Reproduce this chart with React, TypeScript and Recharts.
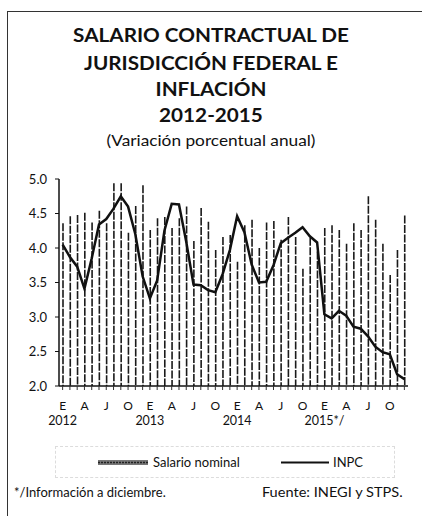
import React from 'react';
import { ComposedChart, Bar, Line, XAxis, YAxis, Legend } from 'recharts';

const monthLetters = ['E', 'F', 'M', 'A', 'M', 'J', 'J', 'A', 'S', 'O', 'N', 'D'];
const shownMonths = [0, 3, 6, 9];
const yearLabels = ['2012', '2013', '2014', '2015*/'];
const yTicks = [2.0, 2.5, 3.0, 3.5, 4.0, 4.5, 5.0];

const salarioNominal = [
  4.36, 4.46, 4.48, 4.51, 4.37, 4.54, 4.36, 4.94, 4.94, 4.22, 4.61, 4.91,
  4.26, 4.43, 4.45, 4.29, 4.43, 4.60, 4.10, 4.58, 4.38, 3.97, 4.16, 4.19,
  3.80, 4.33, 4.41, 4.00, 4.37, 4.39, 4.12, 4.45, 4.16, 3.70, 4.15, 3.95,
  4.29, 4.33, 4.26, 4.06, 4.36, 4.26, 4.75, 4.41, 4.06, 3.61, 3.97, 4.47,
];

const inpc = [
  4.05, 3.87, 3.73, 3.41, 3.85, 4.34, 4.42, 4.57, 4.75, 4.60, 4.20, 3.59,
  3.27, 3.53, 4.25, 4.64, 4.63, 4.09, 3.47, 3.46, 3.39, 3.36, 3.62, 3.97,
  4.46, 4.23, 3.76, 3.50, 3.51, 3.75, 4.07, 4.15, 4.22, 4.30, 4.17, 4.08,
  3.04, 2.98, 3.09, 3.02, 2.86, 2.83, 2.72, 2.57, 2.49, 2.46, 2.17, 2.10,
];

const data = salarioNominal.map((s, i) => ({
  key: `${yearLabels[Math.floor(i / 12)]}-${monthLetters[i % 12]}${i % 12}`,
  salario: s,
  inpc: inpc[i],
}));

const FONT = 'Lato, "Open Sans", sans-serif';

const MonthTick = (props: any) => {
  const { x, y, index } = props;
  const m = index % 12;
  const yr = Math.floor(index / 12);
  return (
    <g>
      {shownMonths.includes(m) && (
        <text x={x} y={y + 18} textAnchor="middle" fontSize={12} fontFamily={FONT} fill="#111">
          {monthLetters[m]}
        </text>
      )}
      {m === 0 && (
        <text x={x} y={y + 33} textAnchor="middle" fontSize={12.5} fontFamily={FONT} fill="#111">
          {yearLabels[yr]}
        </text>
      )}
    </g>
  );
};

const DashedBar = (props: any) => {
  const { x, y, width, height } = props;
  if (height == null || height <= 0) return null;
  const cx = x + width / 2;
  return (
    <line
      x1={cx}
      x2={cx}
      y1={y}
      y2={y + height}
      stroke="#1a1a1a"
      strokeWidth={1.6}
      strokeDasharray="8 1.5"
    />
  );
};

const LegendContent = () => (
  <div
    style={{
      position: 'relative',
      width: 340,
      height: 32,
      border: '1px dashed #dcdcdc',
      boxSizing: 'border-box',
      fontFamily: FONT,
      fontSize: 13,
      color: '#111',
    }}
  >
    <svg width={340} height={30} style={{ position: 'absolute', left: 0, top: 0 }}>
      <rect x={42} y={13} width={50} height={5} fill="#777" />
      <line x1={42} x2={92} y1={15.5} y2={15.5} stroke="#222" strokeWidth={1.5} strokeDasharray="2 1" />
      <line x1={225} x2={273} y1={15.5} y2={15.5} stroke="#111" strokeWidth={2} />
    </svg>
    <span style={{ position: 'absolute', left: 97, top: 7, whiteSpace: 'nowrap' }}>Salario nominal</span>
    <span style={{ position: 'absolute', left: 277, top: 7, whiteSpace: 'nowrap' }}>INPC</span>
  </div>
);

const titleLine = (text: string, centerY: number, size: number, bold: boolean, sx: number) => (
  <div
    style={{
      position: 'absolute',
      left: 0,
      width: 422,
      top: centerY - size / 2 - 1,
      lineHeight: `${size}px`,
      fontSize: size,
      fontWeight: bold ? 700 : 400,
      textAlign: 'center',
      fontFamily: FONT,
      color: '#111',
      whiteSpace: 'nowrap',
      transform: `scaleX(${sx})`,
      transformOrigin: '211px 50%',
    }}
  >
    {text}
  </div>
);

export default function App() {
  return (
    <div
      style={{
        position: 'absolute',
        left: 0,
        top: 0,
        width: 422,
        height: 516,
        background: '#fff',
        overflow: 'hidden',
      }}
    >
      <div style={{ position: 'absolute', left: 7, top: 11, width: 430, height: 520, borderLeft: '1.5px solid #333', borderTop: '1.5px solid #333' }} />
      {titleLine('SALARIO CONTRACTUAL DE', 36, 18, true, 1.15)}
      {titleLine('JURISDICCIÓN FEDERAL E', 63.5, 18, true, 1.15)}
      {titleLine('INFLACIÓN', 90, 18, true, 1.15)}
      {titleLine('2012-2015', 116, 18, true, 1.15)}
      {titleLine('(Variación porcentual anual)', 141.5, 15, false, 1.15)}

      <div style={{ position: 'absolute', left: 0, top: 0 }}>
        <ComposedChart
          width={422}
          height={516}
          data={data}
          margin={{ top: 179, right: 14, bottom: 90, left: 0 }}
          barCategoryGap={0}
        >
          <XAxis
            dataKey="key"
            interval={0}
            height={40}
            tickSize={4}
            tick={<MonthTick />}
            axisLine={{ stroke: '#111', strokeWidth: 1.5 }}
            tickLine={{ stroke: '#333' }}
          />
          <XAxis
            xAxisId="top"
            orientation="top"
            dataKey="key"
            height={0}
            tick={false}
            tickLine={false}
            axisLine={{ stroke: '#111', strokeWidth: 1.5 }}
          />
          <YAxis
            domain={[2, 5]}
            ticks={yTicks}
            width={59}
            tickSize={4}
            tickMargin={8}
            tickFormatter={(v: number) => v.toFixed(1)}
            tick={{ fontSize: 13, fontFamily: FONT, fill: '#111' }}
            axisLine={{ stroke: '#111', strokeWidth: 1.5 }}
            tickLine={{ stroke: '#111' }}
            allowDataOverflow
          />
          <YAxis
            yAxisId="right"
            orientation="right"
            domain={[2, 5]}
            width={0}
            tick={false}
            tickLine={false}
            axisLine={{ stroke: '#111', strokeWidth: 1.5 }}
          />
          <Bar dataKey="salario" name="Salario nominal" barSize={2} shape={<DashedBar />} isAnimationActive={false} />
          <Line
            dataKey="inpc"
            name="INPC"
            type="linear"
            stroke="#111"
            strokeWidth={2.5}
            dot={false}
            activeDot={false}
            isAnimationActive={false}
          />
          <Legend
            layout="horizontal"
            verticalAlign="middle"
            align="center"
            content={() => <LegendContent />}
            wrapperStyle={{ left: 55, top: 446, width: 340, height: 32 }}
          />
        </ComposedChart>
      </div>

      <div style={{ position: 'absolute', left: 14, top: 484, fontSize: 13, fontFamily: FONT, color: '#111', whiteSpace: 'nowrap' }}>
        */Información a diciembre.
      </div>
      <div style={{ position: 'absolute', right: 19, top: 484, fontSize: 13, fontFamily: FONT, color: '#111', whiteSpace: 'nowrap', transform: 'scaleX(1.12)', transformOrigin: '100% 50%' }}>
        Fuente: INEGI y STPS.
      </div>
    </div>
  );
}
